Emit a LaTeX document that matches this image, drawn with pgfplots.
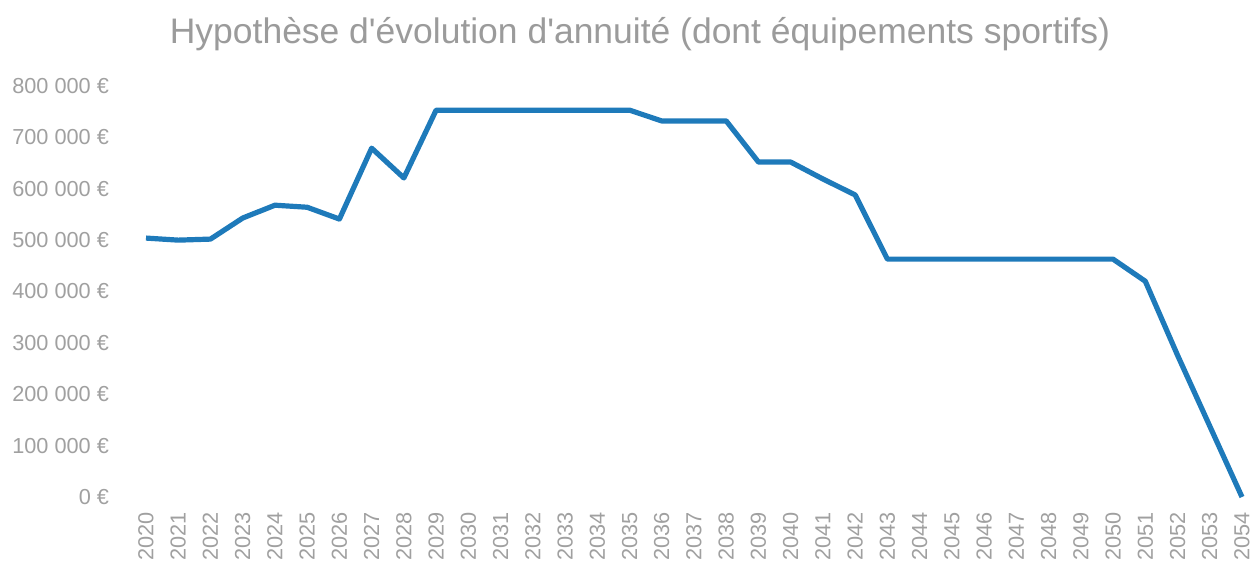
\documentclass[border=0pt]{standalone}
\usepackage{pgfplots}
\pgfplotsset{compat=1.18}
\usepackage{fontspec}
\setmainfont{Liberation Sans}
\definecolor{lab}{RGB}{160,160,160}
\definecolor{tit}{RGB}{155,155,155}
\definecolor{line}{RGB}{30,122,186}
\begin{document}
\begin{tikzpicture}
\begin{axis}[
  scale only axis, width=548bp, height=205.5bp,
  xmin=2020, xmax=2054, ymin=0, ymax=800000,
  clip=false,
  axis line style={draw=none},
  major tick length=0pt,
  xtick={2020,2021,2022,2023,2024,2025,2026,2027,2028,2029,2030,2031,2032,2033,2034,2035,2036,2037,2038,2039,2040,2041,2042,2043,2044,2045,2046,2047,2048,2049,2050,2051,2052,2053,2054},
  xticklabels={2020,2021,2022,2023,2024,2025,2026,2027,2028,2029,2030,2031,2032,2033,2034,2035,2036,2037,2038,2039,2040,2041,2042,2043,2044,2045,2046,2047,2048,2049,2050,2051,2052,2053,2054},
  x tick label style={rotate=90, anchor=east, font=\fontsize{10.9}{12}\selectfont, text=lab},
  xticklabel shift=4bp,
  ytick={0,100000,200000,300000,400000,500000,600000,700000,800000},
  yticklabels={0 €,100 000 €,200 000 €,300 000 €,400 000 €,500 000 €,600 000 €,700 000 €,800 000 €},
  y tick label style={anchor=east, font=\fontsize{10.9}{12}\selectfont, text=lab},
  yticklabel shift=15bp,
  scaled y ticks=false,
]
\addplot[line, line width=2.6bp, line join=round] coordinates {
(2020,504000) (2021,500000) (2022,502000) (2023,543000) (2024,568000)
(2025,564000) (2026,541000) (2027,679000) (2028,621000) (2029,753000)
(2030,753000) (2031,753000) (2032,753000) (2033,753000) (2034,753000)
(2035,753000) (2036,732000) (2037,732000) (2038,732000) (2039,652000)
(2040,652000) (2041,619000) (2042,588000) (2043,463000) (2044,463000)
(2045,463000) (2046,463000) (2047,463000) (2048,463000) (2049,463000)
(2050,463000) (2051,420000) (2052,276000) (2053,138000) (2054,0)
};
\node[font=\fontsize{17.8}{20}\selectfont, text=tit, anchor=base] at ([xshift=-27bp,yshift=21.5bp]rel axis cs:0.5,1) {Hypoth\`ese d\textquotesingle\'evolution d\textquotesingle annuit\'e (dont \'equipements sportifs)};
\end{axis}
\pgfresetboundingbox
\path[use as bounding box] (-73bp,-34bp) rectangle (552.5bp,248.5bp);
\end{tikzpicture}
\end{document}
